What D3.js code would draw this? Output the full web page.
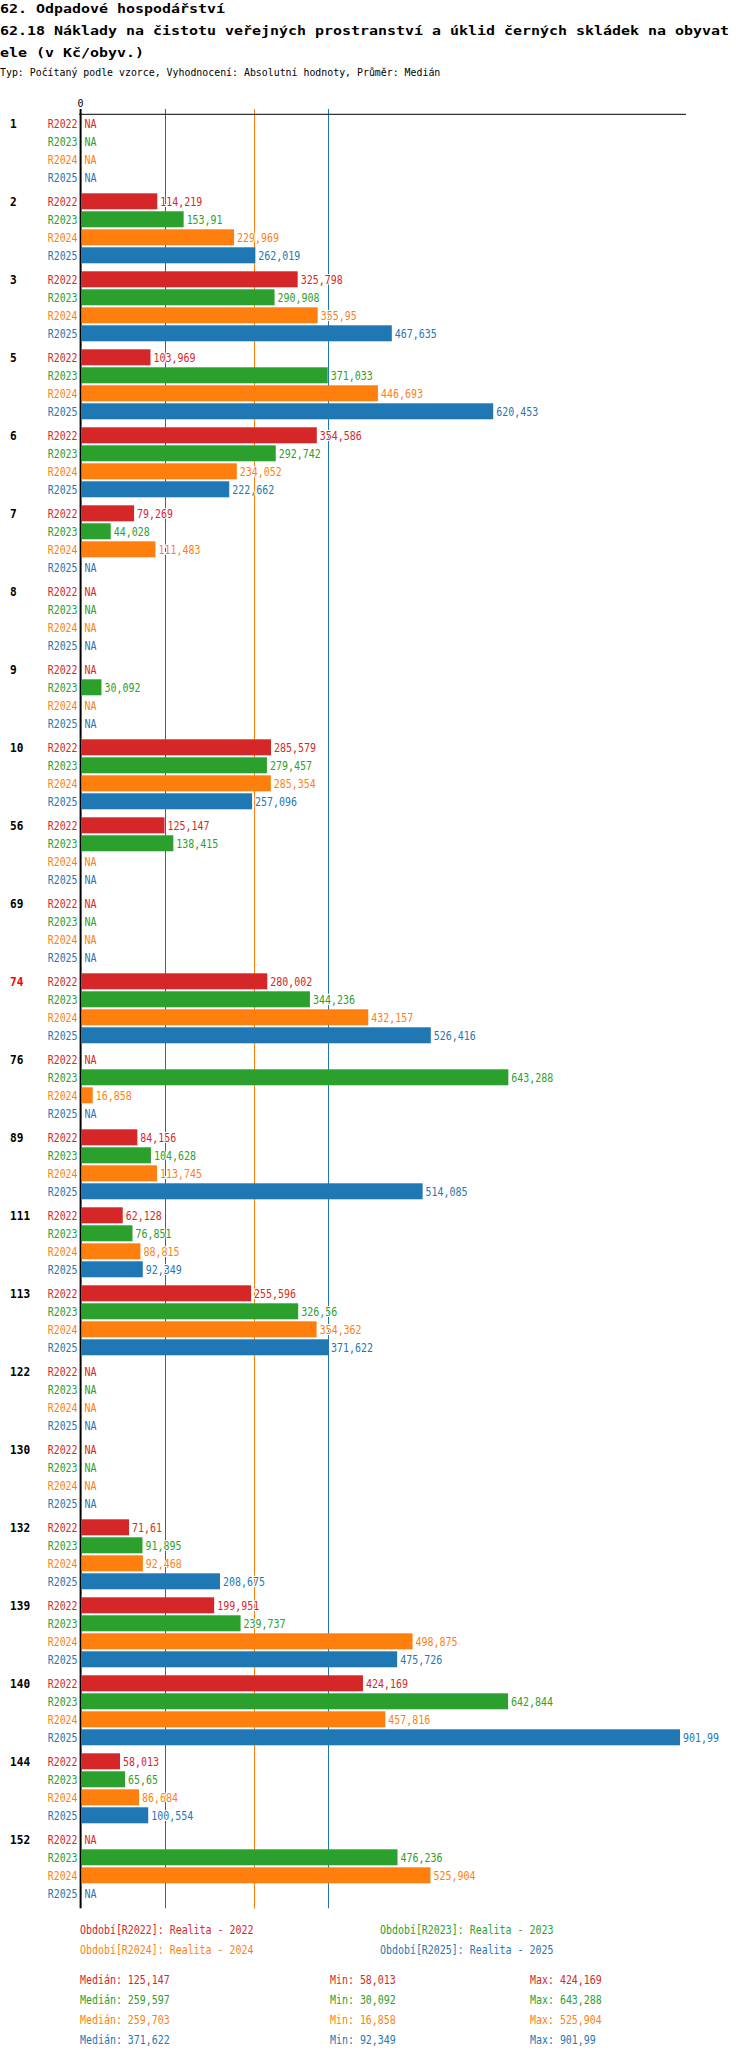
<!DOCTYPE html>
<html lang="cs">
  <head>
    <meta charset="utf-8">
    <title>62.18 Náklady na čistotu veřejných prostranství</title>
    <style>
      body { margin: 0; background: white; }
      svg { display: block; }
      text { font-family: "DejaVu Sans Mono", "Liberation Mono", monospace; }
    </style>
    <script src="https://d3js.org/d3.v7.min.js"></script>
  </head>
  <body>
    <div class="chart"></div>
    <script>

    // values in Kč/obyv., null = NA
    const groups = ["1","2","3","5","6","7","8","9","10","56","69","74","76","89","111","113","122","130","132","139","140","144","152"]
    const periods = ["R2022","R2023","R2024","R2025"]
    const periodNames = ["Realita - 2022","Realita - 2023","Realita - 2024","Realita - 2025"]
    const colors = ["#d62728","#2ca02c","#ff7f0e","#1f77b4"]
    const highlight = "74"

    const r2022 = [null,114.219,325.798,103.969,354.586,79.269,null,null,285.579,125.147,null,280.002,null,84.156,62.128,255.596,null,null,71.61,199.951,424.169,58.013,null]
    const r2023 = [null,153.91,290.908,371.033,292.742,44.028,null,30.092,279.457,138.415,null,344.236,643.288,104.628,76.851,326.56,null,null,91.895,239.737,642.844,65.65,476.236]
    const r2024 = [null,229.969,355.95,446.693,234.052,111.483,null,null,285.354,null,null,432.157,16.858,113.745,88.815,354.362,null,null,92.468,498.875,457.816,86.684,525.904]
    const r2025 = [null,262.019,467.635,620.453,222.662,null,null,null,257.096,null,null,526.416,null,514.085,92.349,371.622,null,null,208.675,475.726,901.99,100.554,null]
    const series = [r2022, r2023, r2024, r2025]

    const width = 750, height = 2058
    const fmt = v => String(+v.toFixed(3)).replace(".", ",")

    // the original font is a narrow monospace, so squeeze glyphs to a fixed advance
    const squeeze = (sel, cw) => sel
      .attr("textLength", function() { return this.textContent.length * cw })
      .attr("lengthAdjust", "spacingAndGlyphs")

    const svg = d3.select(".chart")
      .append("svg")
      .attr("width", width)
      .attr("height", height)

    // title
    const titleLines = [
      "62. Odpadové hospodářství",
      "62.18 Náklady na čistotu veřejných prostranství a úklid černých skládek na obyvat",
      "ele (v Kč/obyv.)"
    ]
    svg.append("g")
      .selectAll("text")
      .data(titleLines)
      .join("text")
      .attr("x", 0)
      .attr("y", (d, i) => 13 + i * 22)
      .style("font-size", "13px")
      .style("font-weight", "bold")
      .text(d => d)
      .call(squeeze, 9)

    svg.append("text")
      .attr("x", 0).attr("y", 76)
      .style("font-size", "11px")
      .text("Typ: Počítaný podle vzorce, Vyhodnocení: Absolutní hodnoty, Průměr: Medián")
      .call(squeeze, 5.95)

    const axisY = 114.3
    const x = d3.scaleLinear().domain([0, 911]).range([81.5, 686])
    const y = d3.scaleBand().domain(groups).range([axisY, axisY + groups.length * 78])
    const row = d3.scaleBand().domain(periods).range([0, 72])
    const rowY = (g, p) => y(g) + row(p) + row.bandwidth() / 2

    const bottom = y.range()[1]

    // median lines (behind bars)
    const medians = series.map(s => d3.median(s.filter(v => v != null)))
    svg.append("g")
      .selectAll("line")
      .data(medians)
      .join("line")
      .attr("x1", d => Math.round(x(d)) + 0.5)
      .attr("x2", d => Math.round(x(d)) + 0.5)
      .attr("y1", 109)
      .attr("y2", bottom)
      .attr("stroke", (d, i) => colors[i])
      .attr("stroke-width", 1)

    // top axis
    svg.append("line")
      .attr("x1", 79).attr("x2", x.range()[1])
      .attr("y1", axisY).attr("y2", axisY)
      .attr("stroke", "black")
    svg.append("line")
      .attr("x1", 80.6).attr("x2", 80.6)
      .attr("y1", 109).attr("y2", bottom)
      .attr("stroke", "black")
      .attr("stroke-width", 2)
    svg.append("text")
      .attr("x", x(0) - 1).attr("y", 107)
      .attr("text-anchor", "middle")
      .style("font-size", "11px")
      .text("0")
      .call(squeeze, 6)

    const cells = []
    groups.forEach((g, gi) => periods.forEach((p, pi) => {
      cells.push({ group: g, period: p, i: pi, value: series[pi][gi] })
    }))

    // group labels
    svg.append("g")
      .selectAll("text")
      .data(groups)
      .join("text")
      .attr("x", 10)
      .attr("y", g => rowY(g, periods[0]))
      .attr("dy", "0.36em")
      .style("font-size", "12px")
      .style("font-weight", "bold")
      .style("fill", g => g == highlight ? "red" : "black")
      .text(g => g)
      .call(squeeze, 6.7)

    // period labels
    svg.append("g")
      .selectAll("text")
      .data(cells)
      .join("text")
      .attr("x", 77.5)
      .attr("y", d => rowY(d.group, d.period))
      .attr("dy", "0.36em")
      .attr("text-anchor", "end")
      .style("font-size", "12px")
      .style("fill", d => colors[d.i])
      .text(d => d.period)
      .call(squeeze, 5.95)

    // bars
    svg.append("g")
      .selectAll("rect")
      .data(cells.filter(d => d.value != null))
      .join("rect")
      .attr("x", x(0))
      .attr("y", d => rowY(d.group, d.period) - 8)
      .attr("width", d => x(d.value) - x(0))
      .attr("height", 16)
      .attr("fill", d => colors[d.i])

    // value labels
    svg.append("g")
      .selectAll("text")
      .data(cells)
      .join("text")
      .attr("x", d => (d.value == null ? x(0) : x(d.value)) + 3)
      .attr("y", d => rowY(d.group, d.period))
      .attr("dy", "0.36em")
      .style("font-size", "12px")
      .style("fill", d => colors[d.i])
      .style("stroke", "white")
      .style("stroke-width", 2)
      .style("paint-order", "stroke")
      .text(d => d.value == null ? "NA" : fmt(d.value))
      .call(squeeze, 6)

    // legend
    svg.append("g")
      .selectAll("text")
      .data(periods)
      .join("text")
      .attr("x", (d, i) => i % 2 ? 380 : 80)
      .attr("y", (d, i) => 1930 + Math.floor(i / 2) * 20)
      .attr("dy", "0.36em")
      .style("font-size", "12px")
      .style("fill", (d, i) => colors[i])
      .text((d, i) => "Období[" + d + "]: " + periodNames[i])
      .call(squeeze, 5.98)

    // stats
    const stats = svg.append("g")
    series.forEach((s, i) => {
      const vals = s.filter(v => v != null)
      const items = [
        ["Medián: ", d3.median(vals), 80],
        ["Min: ", d3.min(vals), 330],
        ["Max: ", d3.max(vals), 530]
      ]
      stats.selectAll(null)
        .data(items)
        .join("text")
        .attr("x", d => d[2])
        .attr("y", 1980 + i * 20)
        .attr("dy", "0.36em")
        .style("font-size", "12px")
        .style("fill", colors[i])
        .text(d => d[0] + fmt(d[1]))
        .call(squeeze, 5.98)
    })

    </script>
  </body>
</html>
